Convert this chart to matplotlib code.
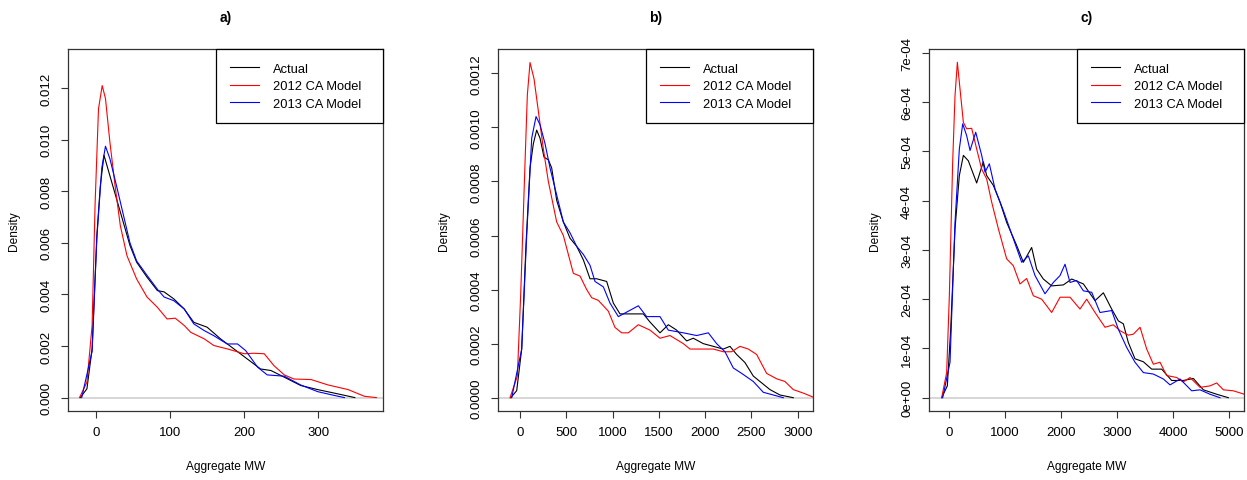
import matplotlib
matplotlib.use('Agg')
import matplotlib.pyplot as plt

plt.rcParams['font.family'] = ['Liberation Sans', 'DejaVu Sans']

# ---- panel a) ----
a_actual_x = [-21, -12, -5, 1.4, 6, 11, 19, 28, 37, 46, 55, 69, 83, 92, 105, 119, 132, 150, 168,
              186, 204, 222, 236, 254, 276, 299, 322, 349]
a_actual_y = [0, 0.00034, 0.0019, 0.0063, 0.0082, 0.0094, 0.0086, 0.0077, 0.0068, 0.0059, 0.00525,
              0.00467, 0.00415, 0.0041, 0.00383, 0.00344, 0.00292, 0.00273, 0.00228, 0.00189,
              0.0015, 0.00111, 0.00105, 0.00079, 0.00047, 0.00031, 0.00017, 0]
a_2012_x = [-22, -12, -5, -1, 3.6, 8.6, 13, 19, 26, 33, 42, 55, 69, 83, 96, 107, 119, 128, 146,
            159, 177, 200, 213, 227, 240, 254, 267, 290, 313, 340, 362, 378]
a_2012_y = [0, 0.0006, 0.0028, 0.0075, 0.0112, 0.0121, 0.0116, 0.0099, 0.0082, 0.00667, 0.0055,
            0.0046, 0.0039, 0.0035, 0.00305, 0.00308, 0.0028, 0.00253, 0.00228, 0.00202,
            0.00189, 0.0017, 0.00172, 0.0017, 0.00124, 0.00088, 0.00072, 0.0007, 0.00049,
            0.00031, 0.00005, 0]
a_2013_x = [-19, -5, 1.4, 8, 13, 19, 28, 37, 46, 55, 69, 83, 92, 105, 119, 132, 146, 159, 177,
            191, 202, 218, 231, 254, 276, 299, 322, 335]
a_2013_y = [0, 0.0018, 0.0062, 0.0089, 0.00975, 0.00926, 0.0082, 0.0071, 0.006, 0.0053, 0.00474,
            0.0042, 0.0039, 0.00376, 0.00344, 0.00286, 0.0026, 0.0024, 0.00208, 0.00208,
            0.00182, 0.00118, 0.00088, 0.00083, 0.00049, 0.00023, 0.00008, 0]

# ---- panel b) ----
b_actual_x = [-100, -36, 18, 65, 108, 144, 180, 216, 259, 306, 342, 396, 468, 540, 612, 684, 756,
              828, 936, 1008, 1080, 1188, 1332, 1404, 1512, 1602, 1692, 1800, 1872, 1980, 2088,
              2196, 2268, 2340, 2430, 2520, 2592, 2700, 2808, 2952]
b_actual_y = [0, 0.000026, 0.00018, 0.00057, 0.00085, 0.00094, 0.00099, 0.00096, 0.00089, 0.00088,
              0.00085, 0.00073, 0.00065, 0.00059, 0.00056, 0.00051, 0.00044, 0.00044, 0.00043,
              0.00035, 0.00031, 0.00031, 0.00031, 0.00028, 0.00024, 0.00027, 0.00025, 0.00021,
              0.00022, 0.0002, 0.00019, 0.00018, 0.00019, 0.00016, 0.00013, 0.00008, 0.00006,
              0.00003, 0.00001, 0]
b_2012_x = [-108, -29, 7, 54, 79, 108, 151, 198, 252, 306, 360, 396, 468, 522, 576, 648, 720, 774,
            846, 954, 1026, 1098, 1170, 1278, 1404, 1512, 1620, 1764, 1836, 1980, 2088, 2196,
            2286, 2376, 2466, 2556, 2664, 2772, 2862, 2952, 3060, 3168, 3250]
b_2012_y = [0, 0.00008, 0.00038, 0.00087, 0.00112, 0.00124, 0.00118, 0.00106, 0.00092, 0.0008,
            0.00071, 0.00065, 0.0006, 0.00053, 0.00046, 0.00045, 0.0004, 0.00037, 0.00036,
            0.00032, 0.00026, 0.00024, 0.00024, 0.00027, 0.00025, 0.00022, 0.00023, 0.0002,
            0.00018, 0.00018, 0.00018, 0.00017, 0.00017, 0.00019, 0.00018, 0.00016, 0.00009,
            0.00007, 0.00006, 0.00003, 0.000017, 0.000002, 0]
b_2013_x = [-90, 18, 72, 126, 173, 216, 270, 324, 396, 468, 540, 612, 684, 756, 810, 900, 972,
            1062, 1170, 1278, 1368, 1512, 1602, 1764, 1908, 2034, 2124, 2214, 2304, 2394, 2520,
            2628, 2736, 2844]
b_2013_y = [0, 0.00018, 0.0006, 0.00096, 0.00104, 0.00101, 0.00094, 0.00085, 0.00075, 0.00065,
            0.00061, 0.00056, 0.00053, 0.00049, 0.00043, 0.00041, 0.00035, 0.0003, 0.00032,
            0.00034, 0.0003, 0.0003, 0.00025, 0.00024, 0.00023, 0.00024, 0.0002, 0.00017,
            0.00011, 0.00009, 0.00006, 0.00002, 0.00001, 0]

# ---- panel c) ----
c_actual_x = [-131, -30, 30, 107, 184, 256, 345, 493, 612, 672, 791, 910, 1028, 1207, 1326, 1474,
              1563, 1682, 1831, 2039, 2188, 2396, 2604, 2753, 2901, 3020, 3109, 3198, 3317, 3466,
              3615, 3793, 3971, 4179, 4358, 4536, 4774, 4982]
c_actual_y = [0, 0.24e-4, 1.39e-4, 3.43e-4, 4.51e-4, 4.92e-4, 4.81e-4, 4.36e-4, 4.79e-4, 4.51e-4,
              4.31e-4, 3.97e-4, 3.56e-4, 3.09e-4, 2.75e-4, 3.05e-4, 2.61e-4, 2.41e-4, 2.27e-4,
              2.29e-4, 2.41e-4, 2.31e-4, 1.97e-4, 2.13e-4, 1.80e-4, 1.56e-4, 1.50e-4, 1.12e-4,
              0.79e-4, 0.73e-4, 0.58e-4, 0.58e-4, 0.35e-4, 0.35e-4, 0.39e-4, 0.16e-4, 0.07e-4, 0]
c_2012_x = [-131, -42, 6, 65, 107, 149, 196, 256, 315, 404, 493, 583, 672, 761, 880, 1028, 1147,
            1266, 1385, 1504, 1653, 1831, 1980, 2158, 2336, 2455, 2604, 2782, 2931, 3050, 3198,
            3288, 3407, 3525, 3644, 3763, 3882, 4060, 4179, 4298, 4477, 4655, 4774, 4893, 5071,
            5267, 5400]
c_2012_y = [0, 0.51e-4, 2.07e-4, 4.78e-4, 6.13e-4, 6.81e-4, 6.27e-4, 5.59e-4, 5.46e-4, 5.47e-4,
            5.05e-4, 4.64e-4, 4.44e-4, 3.97e-4, 3.43e-4, 2.82e-4, 2.68e-4, 2.31e-4, 2.42e-4,
            2.07e-4, 2.00e-4, 1.73e-4, 2.04e-4, 2.04e-4, 1.80e-4, 2.00e-4, 1.73e-4, 1.43e-4,
            1.48e-4, 1.36e-4, 1.27e-4, 1.29e-4, 1.43e-4, 0.99e-4, 0.68e-4, 0.72e-4, 0.45e-4,
            0.41e-4, 0.32e-4, 0.41e-4, 0.21e-4, 0.24e-4, 0.30e-4, 0.16e-4, 0.14e-4, 0.07e-4, 0]
c_2013_x = [-113, 18, 107, 184, 244, 315, 375, 476, 583, 642, 719, 820, 969, 1118, 1296, 1415,
            1534, 1712, 1861, 1980, 2069, 2158, 2277, 2396, 2545, 2693, 2901, 3020, 3169, 3317,
            3466, 3644, 3823, 3942, 4120, 4328, 4477, 4655, 4833]
c_2013_y = [0, 0.72e-4, 3.56e-4, 5.05e-4, 5.56e-4, 5.32e-4, 5.02e-4, 5.39e-4, 4.92e-4, 4.58e-4,
            4.75e-4, 4.24e-4, 3.80e-4, 3.32e-4, 2.75e-4, 2.88e-4, 2.48e-4, 2.11e-4, 2.34e-4,
            2.48e-4, 2.71e-4, 2.34e-4, 2.38e-4, 2.17e-4, 2.14e-4, 1.73e-4, 1.77e-4, 1.39e-4,
            1.02e-4, 0.72e-4, 0.51e-4, 0.48e-4, 0.38e-4, 0.26e-4, 0.38e-4, 0.14e-4, 0.16e-4,
            0.07e-4, 0]

series_names = ['Actual', '2012 CA Model', '2013 CA Model']
series_colors = ['black', 'red', 'blue']
panel_titles = ['a)', 'b)', 'c)']

a_xticks = [0, 100, 200, 300]
a_yticks = [0, 0.002, 0.004, 0.006, 0.008, 0.010, 0.012]
a_ylabels = ['0.000', '0.002', '0.004', '0.006', '0.008', '0.010', '0.012']
b_xticks = [0, 500, 1000, 1500, 2000, 2500, 3000]
b_yticks = [0, 0.0002, 0.0004, 0.0006, 0.0008, 0.0010, 0.0012]
b_ylabels = ['0.0000', '0.0002', '0.0004', '0.0006', '0.0008', '0.0010', '0.0012']
c_xticks = [0, 1000, 2000, 3000, 4000, 5000]
c_yticks = [0, 1e-4, 2e-4, 3e-4, 4e-4, 5e-4, 6e-4, 7e-4]
c_ylabels = ['0e+00', '1e-04', '2e-04', '3e-04', '4e-04', '5e-04', '6e-04', '7e-04']

panels = [
    dict(curves=[(a_actual_x, a_actual_y), (a_2012_x, a_2012_y), (a_2013_x, a_2013_y)],
         xticks=a_xticks, yticks=a_yticks, ylabels=a_ylabels,
         xlim=(-37.5, 387), ylim=(-0.00052, 0.01352), left=68),
    dict(curves=[(b_actual_x, b_actual_y), (b_2012_x, b_2012_y), (b_2013_x, b_2013_y)],
         xticks=b_xticks, yticks=b_yticks, ylabels=b_ylabels,
         xlim=(-238, 3165), ylim=(-0.0000492, 0.00129), left=498),
    dict(curves=[(c_actual_x, c_actual_y), (c_2012_x, c_2012_y), (c_2013_x, c_2013_y)],
         xticks=c_xticks, yticks=c_yticks, ylabels=c_ylabels,
         xlim=(-357, 5261), ylim=(-0.27e-4, 7.08e-4), left=929),
]

W, H = 1247, 481
fig = plt.figure(figsize=(W / 100, H / 100), dpi=100)
fs = 8.6
tick_fs = 9.5
leg_fs = 9.3

for p, title in zip(panels, panel_titles):
    left, top, bottom, width = p['left'], 50, 412, 315
    ax = fig.add_axes([left / W, 1 - bottom / H, width / W, (bottom - top) / H])
    ax.axhline(0, color='#d3d3d3', lw=1.3, zorder=1)
    for (xs, ys), name, col in zip(p['curves'], series_names, series_colors):
        ax.plot(xs, ys, color=col, lw=0.8, label=name, zorder=2)
    ax.set_xlim(*p['xlim'])
    ax.set_ylim(*p['ylim'])
    ax.set_xticks(p['xticks'])
    ax.set_xticklabels([str(t) for t in p['xticks']])
    ax.set_yticks(p['yticks'])
    ax.set_yticklabels(p['ylabels'], rotation=90, va='center')
    ax.tick_params(direction='out', length=5, width=0.8, labelsize=tick_fs, pad=6.5,
                   color='#333333')
    ax.tick_params(axis='x', pad=6)
    for s in ax.spines.values():
        s.set_color('#333333')
        s.set_linewidth(0.9)
    leg_left = (216 - 68) / width
    leg = ax.legend(loc='upper right', bbox_to_anchor=(leg_left, 0, 1 - leg_left, 1),
                    mode='expand', borderaxespad=0, fancybox=False, edgecolor='black',
                    fontsize=leg_fs, handlelength=2.3, handletextpad=1.05, borderpad=1.05,
                    labelspacing=0.43, framealpha=1)
    leg.get_frame().set_linewidth(0.9)
    ax.text(-54 / width, 0.5, 'Density', transform=ax.transAxes, rotation=90,
            ha='center', va='center', fontsize=fs)
    cx = (left + width / 2) / W
    fig.text(cx, 1 - 18 / H, title, ha='center', va='center', fontsize=10, fontweight='bold')
    fig.text(cx, 1 - 467 / H, 'Aggregate MW', ha='center', va='center', fontsize=fs)

fig.savefig('out.png', dpi=100)
